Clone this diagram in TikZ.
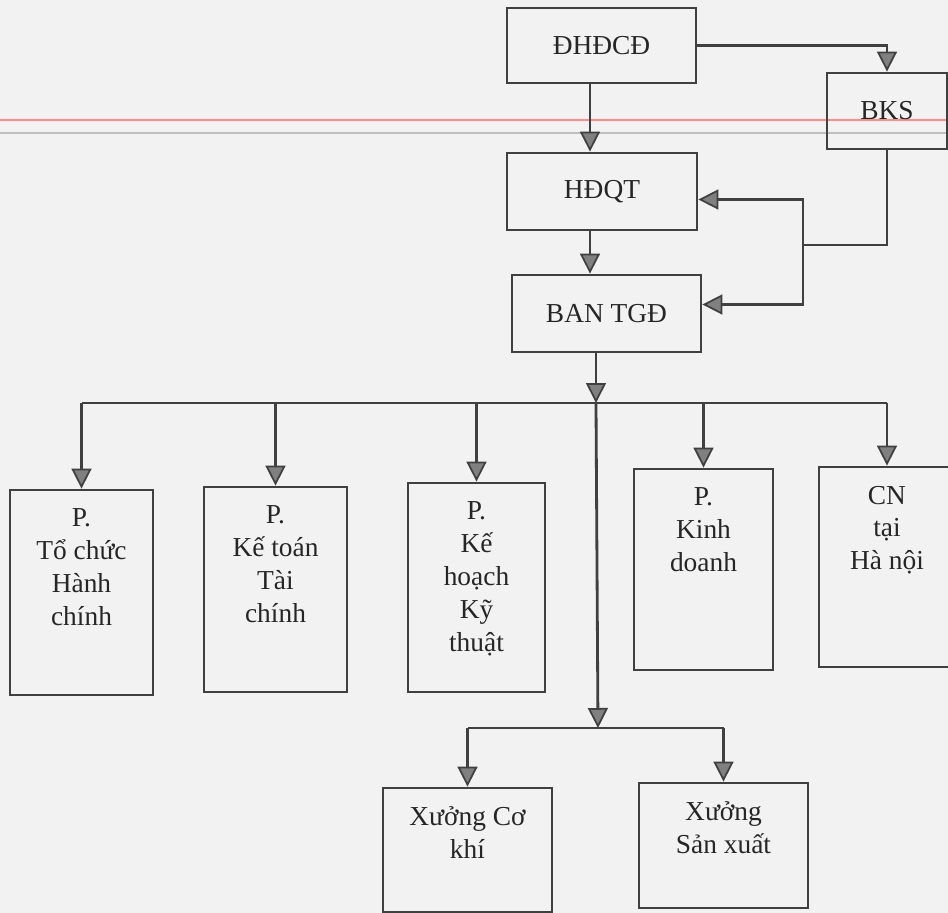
\documentclass[tikz,border=0pt]{standalone}
\usepackage{fontspec}
\setmainfont{Liberation Serif}
\usetikzlibrary{arrows.meta,positioning}
\begin{document}
\begin{tikzpicture}[x=0.02cm, y=-0.02cm,
  font=\fontsize{15.6}{18.7}\selectfont,
  orgbox/.style 2 args={draw=black!75, line width=1.6pt, text=black!85,
    inner sep=0pt, minimum width=#1*0.02cm, minimum height=#2*0.02cm},
  boxtext/.style={align=center, inner sep=0pt, text=black!85},
  link/.style={draw=black!75, line width=1.6pt},
  arr/.style={link, -{Triangle[width=0.4cm, length=0.4cm, fill=black!50, line width=1pt]}}]
  % Paper
  \useasboundingbox (0,0) rectangle (948,913);
  \fill[black!5] (0,0) rectangle (948,913);
  \draw[red!45, line width=0.6pt] (0,120) -- (948,120);
  \draw[black!25, line width=0.8pt] (0,133) -- (948,133);
  % Top boxes
  \node[orgbox={189}{75}] (dhdcd) at (601.5,45.5) {ĐHĐCĐ};
  \node[orgbox={120}{76}] (bks) at (887,111) {BKS};
  \node[orgbox={190}{77}] (hdqt) at (602,191.5) {HĐQT};
  \node[orgbox={189}{77}] (bantgd) at (606.5,313.5) {BAN TGĐ};
  % Departments
  \node[orgbox={143}{205}] (ptchc) at (81.5,592.5) {};
  \node[orgbox={143}{205}] (pktc) at (275.5,589.5) {};
  \node[orgbox={137}{209}] (pkhkt) at (476.5,587.5) {};
  \node[orgbox={139}{201}] (pkd) at (703.5,569.5) {};
  \node[orgbox={136}{200}] (cnhn) at (887,567) {};
  \node[boxtext, below=0.4cm of ptchc.north] (ptchc-t) {P.\\Tổ chức\\Hành\\chính};
  \node[boxtext, below=0.4cm of pktc.north] (pktc-t) {P.\\Kế toán\\Tài\\chính};
  \node[boxtext, below=0.4cm of pkhkt.north] (pkhkt-t) {P.\\Kế\\hoạch\\Kỹ\\thuật};
  \node[boxtext, below=0.4cm of pkd.north] (pkd-t) {P.\\Kinh\\doanh};
  \node[boxtext, below=0.4cm of cnhn.north] (cnhn-t) {CN\\tại\\Hà nội};
  % Workshops
  \node[orgbox={169}{124}] (xck) at (467.5,850) {};
  \node[orgbox={169}{125}] (xsx) at (723.5,845.5) {};
  \node[boxtext, below=0.4cm of xck.north] (xck-t) {Xưởng Cơ\\khí};
  \node[boxtext, below=0.4cm of xsx.north] (xsx-t) {Xưởng\\Sản xuất};
  % Spine and buses
  \coordinate (spine) at (590,0);
  \coordinate (bus) at (596,403);
  \coordinate (wbus) at (598,728);
  \coordinate (kink) at (803,245);
  % Connectors
  \draw[arr] (dhdcd.south -| spine) -- (hdqt.north -| spine);
  \draw[arr] (hdqt.south -| spine) -- (bantgd.north -| spine);
  \draw[arr] (dhdcd.east) -| (bks.north);
  \draw[link] (bks.south) |- (kink);
  \draw[arr] (kink) |- ([yshift=-0.16cm]hdqt.east);
  \draw[arr] (kink) |- ([yshift=0.18cm]bantgd.east);
  \draw[arr] (bantgd.south -| bus) -- (bus);
  \draw[link] (ptchc.north |- bus) -- (cnhn.north |- bus);
  \foreach \n in {ptchc, pktc, pkhkt, pkd, cnhn} {
    \draw[arr] (\n.north |- bus) -- (\n.north);
  }
  \draw[arr] (bus) -- (wbus);
  \draw[link] (xck.north |- wbus) -- (xsx.north |- wbus);
  \foreach \n in {xck, xsx} {
    \draw[arr] (\n.north |- wbus) -- (\n.north);
  }
\end{tikzpicture}
\end{document}
